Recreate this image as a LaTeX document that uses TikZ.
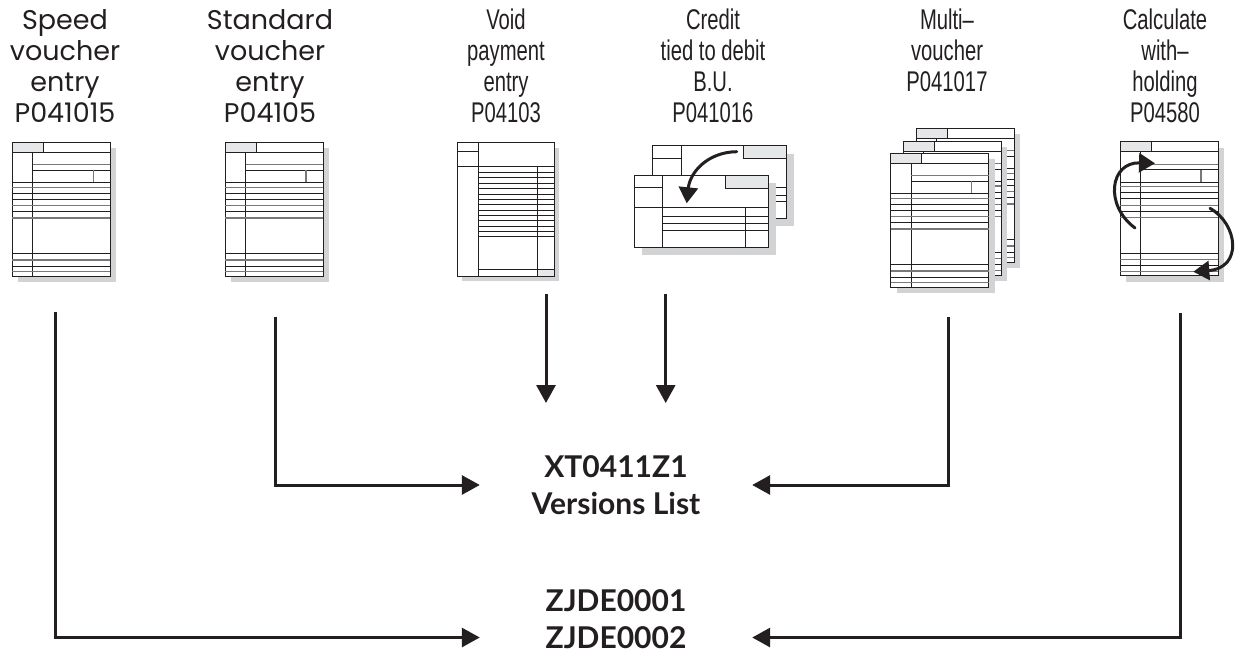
\documentclass[tikz,border=0pt]{standalone}
\usepackage{fontspec}
\setmainfont{Liberation Sans}
\newfontfamily\geofont{Poppins}
\newfontfamily\narrowfont[FakeStretch=0.71]{Liberation Sans}
\newfontfamily\headfont{Lato}
\usetikzlibrary{arrows.meta}

\definecolor{ink}{HTML}{231F20}
\definecolor{formshade}{HTML}{D1D3D4}
\definecolor{tabgray}{HTML}{E6E7E8}
\definecolor{rulegray}{HTML}{77787B}

\tikzset{
  fl/.style={draw=ink, line width=0.8pt},
  glines/.style={draw=rulegray, line width=1.1pt},
  page/.style={fill=white, draw=ink, line width=0.9pt},
  tabbox/.style={fill=tabgray, draw=ink, line width=0.8pt},
  conn/.style={draw=ink, line width=3pt, -{Triangle[length=18pt,width=19pt]}},
  swing/.style={draw=ink, line width=3pt, line cap=round, -{Triangle[length=16pt,width=19pt]}},
  geolabel/.style={font=\geofont\fontsize{27}{31}\selectfont, text=ink, align=center, inner sep=0pt, anchor=base},
  narrowlabel/.style={font=\narrowfont\fontsize{28.5}{31}\selectfont, text=ink, align=center, inner sep=0pt, anchor=base},
  headlabel/.style={font=\headfont\bfseries\fontsize{30}{37}\selectfont, text=ink, align=center, inner sep=0pt, minimum width=272pt},
  % a single-page entry form with its drop shadow
  pics/entryform/.style={code={
    \fill[formshade] (6,6) rectangle (104,140);
    \path[page] (0,0) rectangle (98,134);
    \path[tabbox] (0,0) rectangle (31,10);
    \draw[fl] (0,10) -- (98,10);
    \draw[fl] (20.5,10) -- (20.5,134);
    \draw[glines] (20.5,22.4) -- (98,22.4);
    \draw[fl] (20.5,28) -- (98,28);
    \draw[glines] (81,28) -- (81,40.4);
    \foreach \y in {40.4,51,57,69.4,111.4,123.7} \draw[fl] (0,\y) -- (98,\y);
    \foreach \y in {45,63.4,75.7,117.7,129.4} \draw[glines] (0,\y) -- (98,\y);
  }},
}

\begin{document}
\begin{tikzpicture}[x=1pt,y=-1pt]
\useasboundingbox (0,0) rectangle (1240,654);

% ---- program labels (anchored at the baseline of their last line) ----
\node[geolabel] (lspeed) at (65,122) {Speed\\voucher\\entry\\P041015};
\node[geolabel] (lstd) at (270,122) {Standard\\voucher\\entry\\P04105};
\node[narrowlabel] (lvoid) at (506,122) {Void\\payment\\entry\\P04103};
\node[narrowlabel] (lcred) at (713,122) {Credit\\tied to debit\\B.U.\\P041016};
\node[narrowlabel] (lmulti) at (947,91) {Multi–\\voucher\\P041017};
\node[narrowlabel] (lcalc) at (1165,122) {Calculate\\with–\\holding\\P04580};

% ---- speed and standard voucher forms ----
\pic at (12.3,142.3) {entryform};
\pic at (225,142.3) {entryform};

% ---- void payment form ----
\begin{scope}[shift={(457.3,142.7)}]
  \fill[formshade] (5,5) rectangle (102,138.3);
  \path[page] (0,0) rectangle (97,133.3);
  \draw[fl] (21,0) -- (21,133.3);
  \draw[fl] (0,9) -- (21,9);
  \draw[fl] (0,24) -- (97,24);
  \draw[fl] (80,24) -- (80,133.3);
  \foreach \y in {29.6,35,40.6,45.6,51.3,56.6,61.6,67.3,73,78,83.3,88.6,94}
    \draw[fl] (21,\y) -- (97,\y);
  \path[tabbox] (80,126.6) rectangle (97,133.3);
  \draw[fl] (21,126.6) -- (97,126.6);
\end{scope}

% ---- credit tied to debit: two landscape forms ----
\begin{scope}[shift={(652.7,145.7)}]
  \fill[formshade] (8,8) rectangle (141.3,80.6);
  \path[page] (0,0) rectangle (133.3,72.6);
  \draw[fl] (28.3,0) -- (28.3,72.6);
  \draw[fl] (0,12.6) -- (28.3,12.6);
  \path[tabbox] (90.3,0) rectangle (133.3,12.6);
  \foreach \y in {41.6,49.3,56} \draw[fl] (28.3,\y) -- (133.3,\y);
\end{scope}
\begin{scope}[shift={(634.3,175)}]
  \fill[formshade] (8,8) rectangle (142,80.3);
  \path[page] (0,0) rectangle (134,72.3);
  \draw[fl] (28.4,0) -- (28.4,72.3);
  \draw[fl] (0,12.3) -- (28.4,12.3);
  \draw[fl] (0,32.7) -- (134,32.7);
  \path[tabbox] (91,0) rectangle (134,13.3);
  \draw[fl] (110.7,32.7) -- (110.7,72.3);
  \foreach \y in {41.7,48.3,55.7} \draw[fl] (28.4,\y) -- (134,\y);
\end{scope}
\draw[swing] (736.7,151.7) .. controls (708,152) and (690,172) .. (686.7,203.3);

% ---- multi-voucher: stacked forms ----
\pic at (916,128.3) {entryform};
\pic at (903.3,141) {entryform};
\pic at (890.7,153.3) {entryform};

% ---- calculate withholding form ----
\pic at (1120,141.7) {entryform};
\draw[swing] (1135,228) .. controls (1104,205) and (1110,162) .. (1155,163.3);
\draw[swing] (1210,208.3) .. controls (1238,224) and (1243,268) .. (1193.3,271.7);

% ---- targets ----
\node[headlabel] (vl) at (616,485) {XT0411Z1\\Versions List};
\node[headlabel] (zj1) at (616,600.5) {ZJDE0001};
\node[headlabel] (zj2) at (616,637.5) {ZJDE0002};

% ---- connector ends ----
\coordinate (speedout) at (55.7,312);
\coordinate (stdout) at (275,316.5);
\coordinate (voidout) at (546,294);
\coordinate (voidend) at (546,403);
\coordinate (credout) at (665.7,294);
\coordinate (credend) at (665.7,403);
\coordinate (multiout) at (948,317);
\coordinate (calcout) at (1180,313);

% ---- connectors ----
\draw[conn] (voidout) -- (voidend);
\draw[conn] (credout) -- (credend);
\draw[conn] (stdout) |- (vl.west);
\draw[conn] (multiout) |- (vl.east);
\draw[conn] (speedout) |- (zj2.west);
\draw[conn] (calcout) |- (zj2.east);
\end{tikzpicture}
\end{document}
